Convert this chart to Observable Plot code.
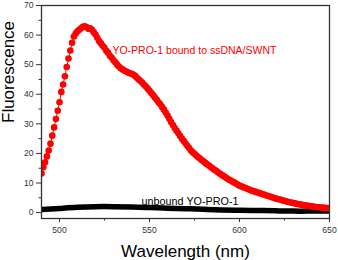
<!DOCTYPE html>
<html>
<head>
<meta charset="utf-8">
<script src="https://cdn.jsdelivr.net/npm/d3@7"></script>
<script src="https://cdn.jsdelivr.net/npm/@observablehq/plot@0.6"></script>
<style>
  html, body { margin: 0; padding: 0; background: #fff; }
  svg { display: block; }
</style>
</head>
<body>
<div id="chart"></div>
<script>
// Bound YO-PRO-1 (red dots), wavelengths 490..650 nm in 1 nm steps
const boundStart = 490;
const boundValues = [
  13.2, 15.3, 17.0, 19.0, 21.0, 23.3, 26.0, 28.8, 31.6, 34.4,
  37.3, 40.8, 43.3, 46.1, 49.2, 52.1, 54.8, 57.4, 59.5, 60.5,
  61.3, 61.8, 62.3, 62.8, 63.0, 62.7, 62.1, 62.3, 61.8, 61.0,
  60.2, 59.1, 58.0, 57.2, 56.4, 55.7, 54.7, 54.0, 53.0, 52.3,
  51.5, 50.8, 50.0, 49.4, 48.8, 48.4, 48.0, 47.7, 47.4, 47.1,
  46.9, 46.7, 46.2, 45.6, 45.0, 44.5, 43.9, 43.2, 42.6, 41.9,
  41.2, 40.4, 39.7, 38.9, 38.1, 37.3, 36.6, 35.7, 34.8, 33.8,
  32.8, 31.7, 30.6, 29.6, 28.6, 27.7, 26.8, 25.9, 25.0, 24.2,
  23.4, 22.6, 21.8, 21.0, 20.4, 19.9, 19.3, 18.8, 18.3, 17.8,
  17.3, 16.8, 16.3, 15.9, 15.4, 15.0, 14.5, 14.1, 13.6, 13.2,
  12.8, 12.4, 12.0, 11.6, 11.2, 10.9, 10.5, 10.2, 9.8, 9.5,
  9.1, 8.9, 8.6, 8.4, 8.1, 7.9, 7.6, 7.4, 7.2, 7.0,
  6.8, 6.6, 6.4, 6.2, 6.0, 5.8, 5.6, 5.4, 5.2, 5.0,
  4.8, 4.6, 4.5, 4.3, 4.1, 4.0, 3.8, 3.6, 3.5, 3.3,
  3.2, 3.1, 2.9, 2.8, 2.7, 2.6, 2.5, 2.4, 2.3, 2.2,
  2.1, 2.0, 1.9, 1.9, 1.8, 1.7, 1.7, 1.6, 1.6, 1.5,
  1.5
];
const boundWavelengths = boundValues.map((_, i) => boundStart + i);

// Unbound YO-PRO-1 (black band)
const unboundWavelengths = [490, 500, 510, 520, 530, 540, 550, 560, 570, 580, 590, 600, 610, 620, 630, 640, 650];
const unboundValues =      [1.0, 1.4, 1.8, 2.0, 2.0, 1.9, 1.7, 1.5, 1.3, 1.1, 0.9, 0.8, 0.7, 0.6, 0.5, 0.5, 0.5];

const xMajorTicks = [500, 550, 600, 650];
const xMinorTicks = [525, 575, 625];
const yMajorTicks = [0, 10, 20, 30, 40, 50, 60, 70];
const yMinorTicks = [5, 15, 25, 35, 45, 55, 65];

const labels = ["YO-PRO-1 bound to ssDNA/SWNT", "unbound YO-PRO-1"];

const bound = boundWavelengths.map((w, i) => ({w, v: boundValues[i]}));
const unbound = unboundWavelengths.map((w, i) => ({w, v: unboundValues[i]}));

const plot = Plot.plot({
  width: 338,
  height: 260,
  marginLeft: 41,
  marginRight: 9,
  marginTop: 5,
  marginBottom: 42,
  style: {fontFamily: "'Liberation Sans', Arial, sans-serif", background: "#fff"},
  x: {domain: [490, 650]},
  y: {domain: [-2, 70]},
  marks: [
    Plot.line(unbound, {x: "w", y: "v", stroke: "black", strokeWidth: 5.5, curve: "natural", clip: true}),
    Plot.line(bound, {x: "w", y: "v", stroke: "red", strokeWidth: 1, clip: true}),
    Plot.dot(bound, {x: "w", y: "v", r: 3.3, fill: "red", stroke: "none", clip: true}),
    Plot.text([labels[0]], {x: 529.4, y: 54.8, text: d => d, fill: "red", fontSize: 10.5, textAnchor: "start"}),
    Plot.text([labels[1]], {x: 545.6, y: 3.6, text: d => d, fill: "black", fontSize: 10.8, textAnchor: "start"}),
    Plot.frame({stroke: "#333", strokeWidth: 1.3}),
    Plot.axisX({ticks: xMajorTicks, tickSize: 4, tickPadding: 4, fontSize: 8.6, fill: "#333", stroke: "#333", label: null}),
    Plot.axisX({ticks: xMinorTicks, tickSize: 2.5, text: null, stroke: "#333", label: null}),
    Plot.axisY({ticks: yMajorTicks, tickSize: 5, tickPadding: 3, fontSize: 8.6, fill: "#333", stroke: "#333", label: null}),
    Plot.axisY({ticks: yMinorTicks, tickSize: 2.5, text: null, stroke: "#333", label: null}),
    Plot.text(["Wavelength (nm)"], {frameAnchor: "bottom", dy: 38, text: d => d, fontSize: 17, fill: "black", lineAnchor: "bottom"}),
    Plot.text(["Fluorescence"], {frameAnchor: "left", dx: -33, dy: 11, rotate: -90, text: d => d, fontSize: 17, fill: "black"})
  ]
});
document.getElementById("chart").appendChild(plot);
</script>
</body>
</html>
